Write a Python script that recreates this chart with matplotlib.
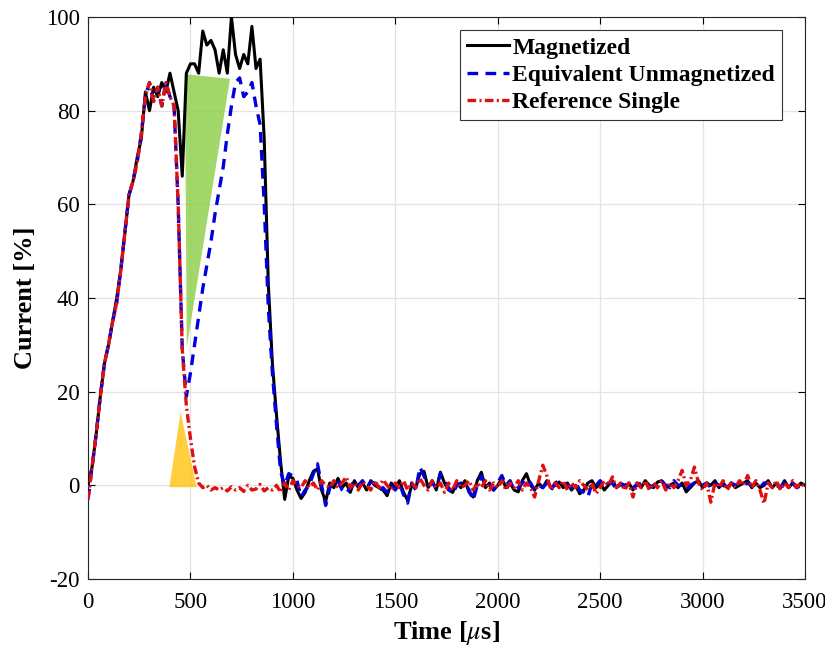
import numpy as np
import matplotlib.pyplot as plt

plt.rcParams['font.family'] = ['Liberation Serif', 'DejaVu Serif']
plt.rcParams['mathtext.fontset'] = 'stix'
plt.rcParams['axes.unicode_minus'] = False

# sampling period of the recorded traces [us]
dt = 20

# Magnetized current [%], samples every dt from t = 0
mag = [0, 4, 11, 19, 26, 30, 35, 40, 46, 54,
       62, 65, 70, 74, 84, 80, 85, 83, 86, 84,
       88, 84, 80, 66, 88, 90, 90, 88, 97, 94,
       95, 93, 88, 93, 88, 100, 92, 89, 92, 90,
       98, 89, 91, 74, 43, 26, 15, 5, -3, 2,
       # 1000 us onwards
       1.5, -1, -2.8, -1.5, 1, 3, 3.5, -1, -3.5, 0.5,
       -0.5, 1.5, -0.5, 0.5, -1.5, 1, -0.5, 0.5, -1, 1,
       0, -0.5, -1, -2.2, 0.5, -0.5, 1, -1.5, -3.2, 0,
       -0.5, 2.5, 3, -0.5, 1, -1, 2.8, 0.5, -1, -1.5,
       0.5, -0.5, 1, -1.5, -2.5, 1, 2.8, -0.5, 0.5, -1,
       0, 1.5, -0.5, 0.5, -1, -1.4, 1, 2.5, 0, -1,
       0.5, -0.5, 1, -0.5, 0, 0.7, -0.5, 0.5, -1, 0,
       -1.8, -1, 0.5, 1, -0.5, 0.5, -1, 0, 1, -0.5,
       0.4, -0.5, 0.5, -1, 0.5, -0.5, 1, 0, -0.5, 0.7,
       1, -0.5, 0, 0.5, -0.5, 0.5, -1.4, -0.5, 0.5, 1,
       -0.5, 0.5, 0, 1, -0.5, 0.5, -0.5, 0.5, -0.5, 0,
       0.5, 1, -0.5, 0.5, -0.5, 0, 1, -0.5, 0.5, -0.5,
       1, -0.5, 0.5, -0.5, 0.5, 0]

# Equivalent unmagnetized current [%]
unmag = [-3, 4, 11, 19, 26, 30, 35, 39, 46, 54,
         62, 65, 69, 75, 83, 86, 82, 85, 81, 86,
         83, 81, 60, 29, 19, 24, 30, 36, 42, 47,
         52, 58, 63, 68, 75, 81, 86, 87, 83, 84,
         86, 81, 77, 60, 38, 24, 13, 3, 0, 2.5,
         # 1000 us onwards
         2, 1, -2.5, -1, 0, 2.5, 4.6, 0, -4.3, -0.5,
         0.5, 1, -1, -1.8, -0.5, 1, 0, 1, -0.5, 0.7,
         0.5, -1, -0.5, -1.5, 0, -1, 0.5, -2, -3.8, 0.5,
         -1, 3.9, 2, 0, 0.5, -0.5, 2.5, 1, -0.5, -1.8,
         0, 0.5, 0.5, -1, -3.2, 0, 2, 0, 0, -1,
         0.5, 2.1, 0, 1, -1, -0.5, 0.5, 1.5, 0.5, -1,
         0, -0.5, 0.5, -1, 0.5, 1, 0.5, 0, -0.5, 0.5,
         -1, -1.5, -2.5, 0.5, 0, 1, -0.5, 0.5, 0.5, -1,
         0.4, 0, 0.5, -0.5, 0, 0.5, 0.5, -0.5, 0, 0.7,
         1, 0, -0.5, 1, 0, 0, -1, 0, 0.5, 0.5,
         0, 0.5, -0.5, 0.5, 0, 0, -0.5, 0.5, 0, 0.5,
         0, 0.5, 0, 0, -0.5, 0.5, 0.5, 0, 0, -0.5,
         0.5, 0, 0.5, -0.5, 0, 0]

# Reference single pulse current [%]
ref = [-3, 4, 11, 19, 26, 30, 35, 39, 46, 54,
       62, 65, 69, 75, 83, 86, 82, 85, 81, 86,
       83, 81, 60, 29, 17, 10, 4,
       # 540 us onwards
       0.5, -0.5, 0, -1, -0.5, -1, -0.5, -1.2, -0.3, -1,
       -0.5, -1.3, 0, -1, -0.8, 0.2, -1.2, -0.5, -1, 0,
       -1.5, 0.5, -1, 1, 0, -0.5, 1, -0.5, 0.5, -1,
       1, 0, -0.5, 1, -0.5, 0.5, 1.8, -0.5, 0.5, -1,
       0.8, 0, -1, 1, -0.5, 1.2, 0, -1, 0.5, -0.5,
       1, -1, 0.5, -0.5, 1.5, 0, -1, 1, -0.5, 0.5,
       -1.5, 0.5, -1, 1, -0.5, 0, 1, -1, 0.5, -0.5,
       1, -1, 0.5, -0.5, 1, -1, 0.5, -0.5, 1, -1,
       0.5, -0.5, -2.5, 1, 4.3, 2, -1, 0.5, -0.5, 1,
       -1, 0.5, -0.5, 1, 0, -1, 0.5, -1.8, -0.5, 1,
       0, 1.8, -0.5, 0.5, -1, 0.5, -2.5, 0.5, -0.5, 1,
       -1, 0.5, -0.5, 1, -1, 0.5, -0.5, 1, 3.2, 0,
       1, 3.9, 0.5, -1, 0.5, -3.6, 0.5, -0.5, 1, -1,
       0.5, -0.5, 1, 0, 2.1, -0.5, 1, -1, -3.9, 0.5,
       -0.5, 1, -1, 0.5, -0.5, 1, -0.4, 0.5, -0.5]

# shaded regions: (time, current) corners
green_t = [473, 693, 482]
green_i = [87.8, 86.8, 29.5]
orange_t = [397, 530, 452]
orange_i = [-0.4, -0.4, 15.7]

fig = plt.figure(figsize=(8.25, 6.46), dpi=100)
ax = fig.add_axes([0.1067, 0.1037, 0.8691, 0.870])

ax.fill(green_t, green_i, color='#92D050', alpha=0.85, lw=0, zorder=1)
ax.fill(orange_t, orange_i, color='#FFC000', alpha=0.75, lw=0, zorder=1)

t_mag = np.arange(len(mag)) * dt
t_unmag = np.arange(len(unmag)) * dt
t_ref = np.arange(len(ref)) * dt

ax.plot(t_mag, mag, color='black', lw=2.2, label='Magnetized', zorder=3)
ax.plot(t_unmag, unmag, color='#0000DD', lw=2.4, dashes=(3.2, 2.2),
        label='Equivalent Unmagnetized', zorder=4)
ax.plot(t_ref, ref, color='#E01010', lw=2.4, dashes=(2.6, 1.0, 0.6, 1.0),
        label='Reference Single', zorder=5)

ax.set_xlim(0, 3500)
ax.set_ylim(-20, 100)
ax.set_xticks(np.arange(0, 3501, 500))
ax.set_yticks(np.arange(-20, 101, 20))
ax.grid(True, color='#e3e3e3', lw=0.9)
ax.set_axisbelow(True)
ax.tick_params(direction='in', top=True, right=True, length=5, width=0.8,
               labelsize=16.5)
ax.tick_params(axis='x', pad=9)
ax.tick_params(axis='y', pad=6)
for s in ax.spines.values():
    s.set_linewidth(0.8)
    s.set_color('#262626')

ax.set_xlabel(r'Time [$\mu$s]', fontsize=19, fontweight='bold', labelpad=5)
ax.set_ylabel('Current [%]', fontsize=19, fontweight='bold', labelpad=6)

leg = ax.legend(loc='upper right', bbox_to_anchor=(0.968, 0.977),
                prop={'size': 17, 'weight': 'bold'}, fancybox=False,
                framealpha=1, edgecolor='#333333', handlelength=1.75,
                handletextpad=0.15, labelspacing=0.25, borderpad=0.3,
                borderaxespad=0)
leg.get_frame().set_linewidth(0.8)

fig.savefig('out.png', dpi=100)
